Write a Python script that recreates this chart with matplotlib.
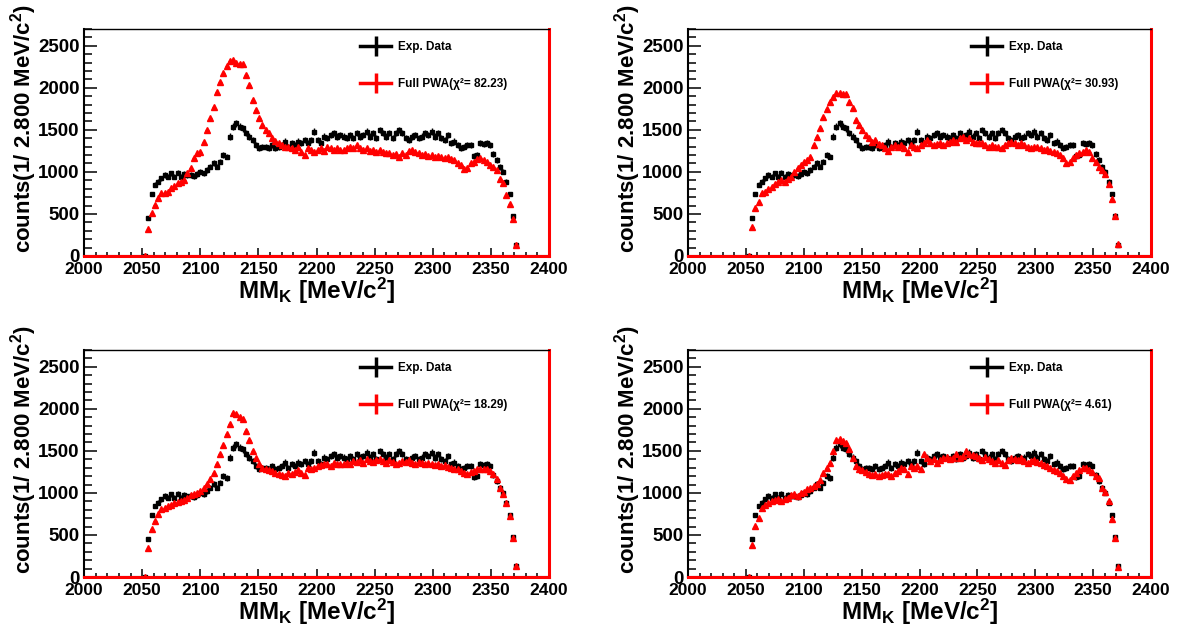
import numpy as np
import matplotlib.pyplot as plt
from matplotlib.lines import Line2D
from matplotlib.ticker import MultipleLocator

plt.rcParams['font.family'] = ['Liberation Sans', 'DejaVu Sans']
plt.rcParams['font.weight'] = 'bold'
plt.rcParams['mathtext.fontset'] = 'custom'
plt.rcParams['mathtext.rm'] = 'Liberation Sans:bold'
plt.rcParams['mathtext.it'] = 'Liberation Sans:bold'
plt.rcParams['mathtext.bf'] = 'Liberation Sans:bold'

# K- missing mass histogram, 2.8 MeV bins
bin_width = 2.8
first_center = 2052.6

exp_data = [
    0, 448, 738, 845, 885, 924, 964, 944, 984, 944,
    992, 944, 976, 960, 964, 952, 976, 1004, 984, 1023,
    1063, 1103, 1063, 1123, 1202, 1182, 1420, 1539, 1579, 1539,
    1519, 1460, 1420, 1380, 1321, 1281, 1301, 1301, 1281, 1321,
    1281, 1301, 1321, 1361, 1301, 1341, 1321, 1361, 1341, 1380,
    1341, 1380, 1480, 1380, 1341, 1420, 1400, 1440, 1460, 1420,
    1440, 1420, 1400, 1440, 1400, 1460, 1420, 1440, 1480, 1420,
    1460, 1400, 1500, 1460, 1420, 1460, 1400, 1460, 1500, 1460,
    1400, 1380, 1420, 1440, 1400, 1420, 1460, 1440, 1480, 1420,
    1460, 1400, 1380, 1440, 1341, 1361, 1321, 1281, 1301, 1321,
    1321, 1190, 1200, 1340, 1330, 1340, 1320, 1214, 1143, 1060,
    1004, 885, 738, 476, 135,
]

pwa_fit1 = [
    0, 317, 515, 607, 686, 746, 754, 765, 805, 833,
    865, 885, 904, 984, 1043, 1162, 1222, 1242, 1361, 1500,
    1638, 1777, 1956, 2075, 2174, 2254, 2313, 2330, 2300, 2280,
    2280, 2154, 2035, 1857, 1738, 1638, 1559, 1500, 1460, 1400,
    1373, 1341, 1321, 1301, 1293, 1281, 1261, 1301, 1242, 1202,
    1281, 1261, 1242, 1261, 1281, 1253, 1301, 1281, 1261, 1281,
    1261, 1261, 1281, 1301, 1281, 1321, 1281, 1261, 1281, 1253,
    1261, 1242, 1261, 1242, 1230, 1222, 1202, 1214, 1182, 1222,
    1202, 1253, 1261, 1242, 1222, 1202, 1214, 1190, 1202, 1182,
    1190, 1174, 1162, 1174, 1150, 1143, 1111, 1083, 1031, 1043,
    1103, 1123, 1150, 1162, 1143, 1123, 1083, 1063, 1023, 912,
    865, 726, 619, 436, 131,
]

pwa_fit2 = [
    0, 349, 567, 646, 746, 765, 793, 825, 857, 885,
    904, 885, 912, 944, 1004, 1043, 1083, 1123, 1143, 1182,
    1321, 1420, 1519, 1650, 1746, 1837, 1896, 1944, 1936, 1928,
    1928, 1837, 1757, 1619, 1559, 1500, 1440, 1400, 1361, 1380,
    1333, 1321, 1281, 1253, 1301, 1321, 1301, 1321, 1281, 1242,
    1321, 1301, 1281, 1321, 1341, 1380, 1341, 1321, 1330, 1341,
    1321, 1341, 1361, 1380, 1361, 1400, 1420, 1380, 1400, 1361,
    1341, 1341, 1349, 1321, 1301, 1321, 1301, 1293, 1281, 1321,
    1341, 1361, 1341, 1321, 1349, 1321, 1301, 1281, 1293, 1301,
    1281, 1261, 1269, 1253, 1242, 1222, 1202, 1162, 1103, 1123,
    1162, 1202, 1222, 1242, 1261, 1242, 1162, 1123, 1063, 1023,
    976, 857, 674, 476, 143,
]

pwa_fit3 = [
    0, 349, 567, 666, 754, 805, 825, 845, 857, 885,
    896, 904, 912, 944, 976, 992, 1004, 1023, 1055, 1103,
    1162, 1242, 1341, 1460, 1571, 1698, 1825, 1956, 1936, 1904,
    1876, 1738, 1627, 1500, 1420, 1341, 1293, 1281, 1269, 1261,
    1242, 1230, 1214, 1202, 1242, 1222, 1253, 1269, 1242, 1214,
    1293, 1281, 1301, 1321, 1333, 1341, 1349, 1321, 1361, 1349,
    1341, 1349, 1361, 1341, 1380, 1369, 1390, 1361, 1400, 1380,
    1369, 1390, 1400, 1380, 1361, 1390, 1369, 1349, 1361, 1380,
    1370, 1390, 1361, 1349, 1370, 1361, 1341, 1361, 1349, 1330,
    1341, 1321, 1330, 1310, 1301, 1290, 1281, 1262, 1242, 1230,
    1250, 1262, 1281, 1290, 1290, 1281, 1262, 1222, 1160, 1063,
    990, 880, 720, 460, 130,
]

pwa_fit4 = [
    0, 381, 607, 706, 825, 857, 885, 904, 912, 924,
    904, 924, 936, 976, 992, 964, 1004, 1016, 1043, 1063,
    1083, 1111, 1151, 1242, 1301, 1361, 1500, 1627, 1639, 1619,
    1599, 1520, 1420, 1321, 1282, 1270, 1254, 1230, 1214, 1222,
    1202, 1214, 1222, 1230, 1202, 1242, 1262, 1301, 1282, 1230,
    1321, 1301, 1321, 1282, 1460, 1420, 1381, 1401, 1361, 1389,
    1413, 1429, 1401, 1420, 1460, 1420, 1440, 1500, 1460, 1456,
    1436, 1417, 1397, 1428, 1405, 1377, 1357, 1389, 1357, 1337,
    1389, 1417, 1405, 1397, 1417, 1377, 1357, 1377, 1397, 1365,
    1357, 1337, 1317, 1298, 1278, 1258, 1238, 1206, 1167, 1159,
    1206, 1238, 1278, 1298, 1298, 1278, 1246, 1198, 1180, 1060,
    1010, 900, 690, 464, 120,
]

fits = [pwa_fit1, pwa_fit2, pwa_fit3, pwa_fit4]
chi2 = [82.23, 30.93, 18.29, 4.61]

centers = first_center + bin_width * np.arange(len(exp_data))

fig = plt.figure(figsize=(11.85, 6.28), dpi=100)
fig.patch.set_facecolor('white')

# pad positions (left, bottom, width, height) in figure fractions
pads = [
    (0.0709, 0.5924, 0.3924, 0.3615),
    (0.5806, 0.5924, 0.3907, 0.3615),
    (0.0709, 0.0812, 0.3924, 0.3615),
    (0.5806, 0.0812, 0.3907, 0.3615),
]
legend_x = [0.594, 0.612, 0.594, 0.612]


def draw_pad(rect, fit, chi, lx):
    ax = fig.add_axes(rect)
    data = np.array(exp_data, dtype=float)
    model = np.array(fit, dtype=float)

    ax.errorbar(centers, data, yerr=np.sqrt(data), xerr=bin_width / 2,
                fmt='s', ms=3.2, color='black', ecolor='black',
                elinewidth=1.0, capsize=0, zorder=3)
    ax.errorbar(centers, model, yerr=np.sqrt(model) * 0.5, xerr=bin_width / 2,
                fmt='^', ms=4.0, color='red', ecolor='red',
                elinewidth=1.0, capsize=0, zorder=4)

    ax.set_xlim(2000, 2400)
    ax.set_ylim(0, 2700)
    ax.axhline(0, color='red', lw=2.2, zorder=5, clip_on=False)

    ax.xaxis.set_major_locator(MultipleLocator(50))
    ax.xaxis.set_minor_locator(MultipleLocator(10))
    ax.yaxis.set_major_locator(MultipleLocator(500))
    ax.yaxis.set_minor_locator(MultipleLocator(100))
    ax.tick_params(axis='y', which='major', direction='in', length=9.5, width=1.1,
                   labelsize=13.5, pad=3)
    ax.tick_params(axis='y', which='minor', direction='in', length=5.5, width=1.1)
    ax.tick_params(axis='x', which='major', direction='in', length=6, width=1.1,
                   labelsize=12.5, pad=4.5)
    ax.tick_params(axis='x', which='minor', direction='in', length=3, width=1.1)
    for lab in ax.get_xticklabels() + ax.get_yticklabels():
        lab.set_fontweight('bold')

    ax.spines['left'].set_linewidth(1.5)
    ax.spines['top'].set_linewidth(1.0)
    ax.spines['bottom'].set_linewidth(1.5)
    ax.spines['right'].set_color('red')
    ax.spines['right'].set_linewidth(2.2)

    ax.set_xlabel(r'MM$_{\mathrm{K}}$ [MeV/c$^{2}$]', fontsize=17.5,
                  fontweight='bold', labelpad=-1)
    ax.set_ylabel(r'counts(1/ 2.800 MeV/c$^{2}$)', fontsize=16,
                  fontweight='bold', va='center')
    ax.yaxis.set_label_coords(-0.13, 0.56)

    handles = [
        Line2D([], [], color='black', lw=2.5, marker='|', ms=15, mew=2.5),
        Line2D([], [], color='red', lw=2.5, marker='|', ms=15, mew=2.5),
    ]
    labels = ['Exp. Data', 'Full PWA(χ²= %.2f)' % chi]
    ax.legend(handles, labels, loc='upper left', bbox_to_anchor=(lx, 0.945),
              frameon=False, handlelength=2.6, handletextpad=0.6,
              labelspacing=2.1, borderpad=0, borderaxespad=0,
              prop={'weight': 'bold', 'size': 8.5})
    return ax


for rect, fit, chi, lx in zip(pads, fits, chi2, legend_x):
    draw_pad(rect, fit, chi, lx)

fig.savefig('out.png', dpi=100, facecolor='white')
